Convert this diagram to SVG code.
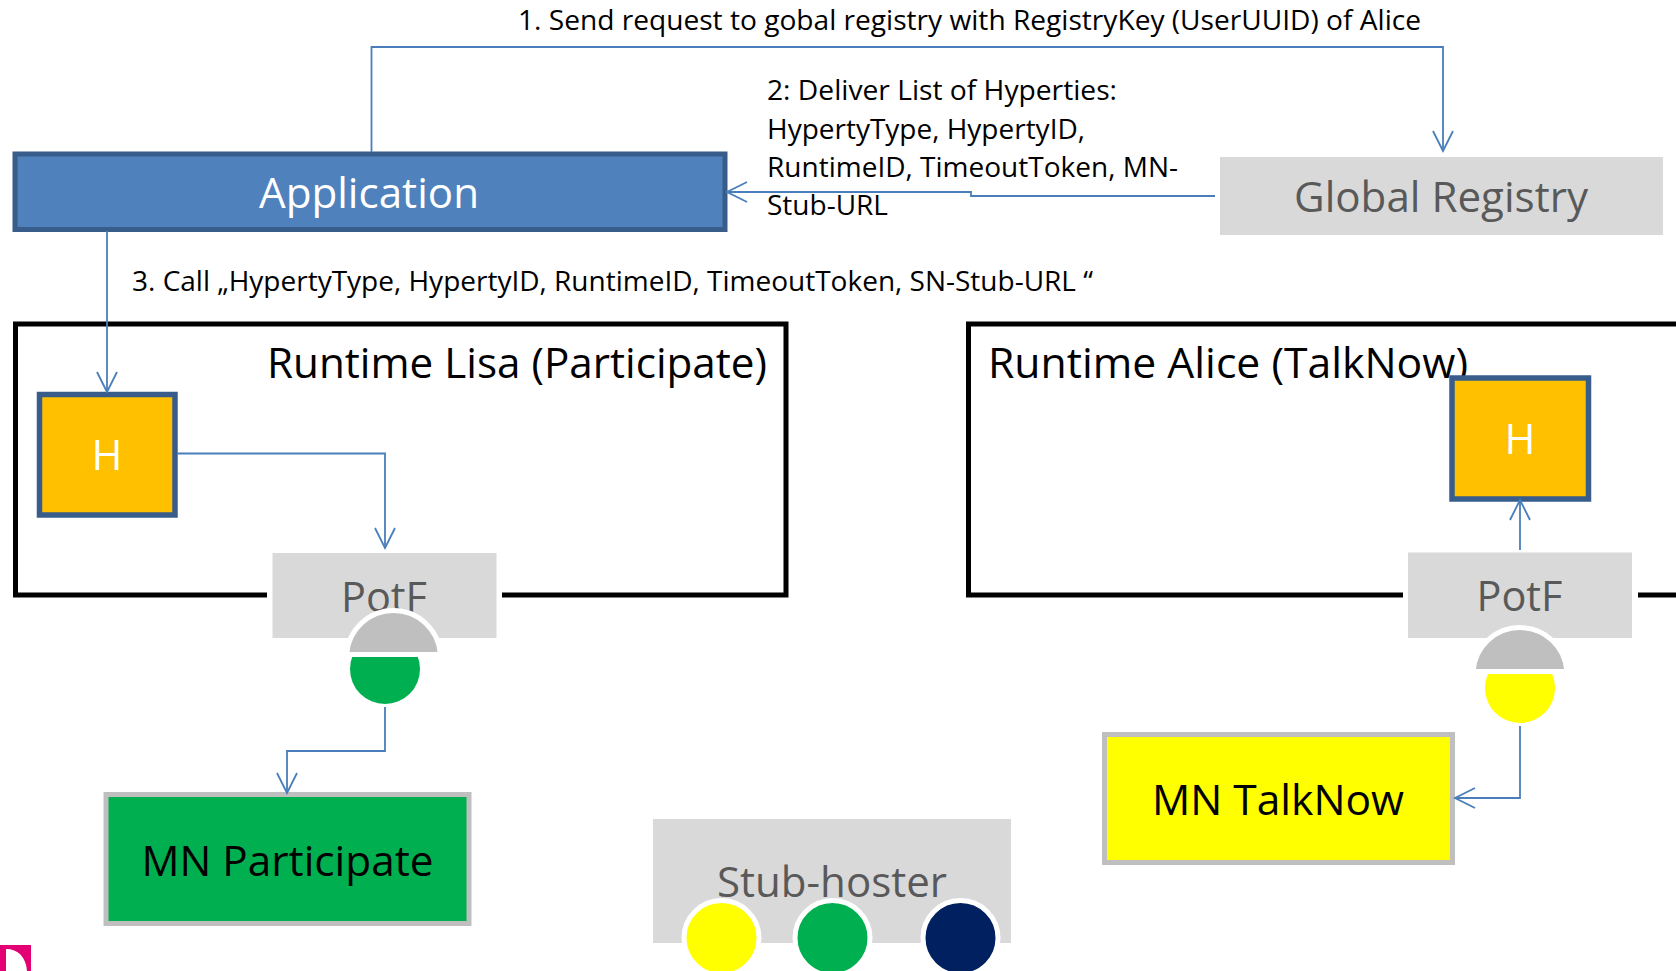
<svg xmlns="http://www.w3.org/2000/svg" width="1676" height="971" viewBox="0 0 1676 971">
<style>
text{font-family:"Open Sans","Noto Sans","Liberation Sans",sans-serif}
.lab{font-size:27px;fill:#000}
.big{font-size:42px;text-anchor:middle}
.gr{fill:#595959}
.box{fill:#d9d9d9}
.run{fill:none;stroke:#000;stroke-width:5}
.h{fill:#ffc000;stroke:#385d8a;stroke-width:5.5}
.mn{stroke:#bfbfbf;stroke-width:5}
.cap{fill:#bfbfbf;stroke:#fff;stroke-width:5}
.dot{stroke:#fff;stroke-width:5}
.c{fill:none;stroke:#4a7ebb;stroke-width:1.8;marker-end:url(#a)}
</style>
<defs>
<marker id="a" markerUnits="userSpaceOnUse" markerWidth="26" markerHeight="26" refX="21" refY="11" orient="auto">
<path d="M1 1 L21 11 L1 21" fill="none" stroke="#4a7ebb" stroke-width="1.8"/>
</marker>
</defs>
<rect width="1676" height="971" fill="#fff"/>

<g id="runtime-lisa">
<path class="run" d="M267 595H15.500V324H786V595H502"/>
<text x="767" y="378" class="big" style="text-anchor:end" textLength="500" lengthAdjust="spacingAndGlyphs">Runtime Lisa (Participate)</text>
</g>
<g id="runtime-alice">
<path class="run" d="M1403 595H968.500V324H1676M1638 595H1676"/>
<text x="988" y="378" font-size="42" textLength="480" lengthAdjust="spacingAndGlyphs">Runtime Alice (TalkNow)</text>
</g>

<g id="application">
<rect x="15" y="154" width="710" height="75.500" fill="#4f81bd" stroke="#385d8a" stroke-width="5"/>
<text x="369" y="208" class="big" fill="#fff" textLength="220" lengthAdjust="spacingAndGlyphs">Application</text>
</g>
<g id="global-registry">
<rect class="box" x="1220" y="157" width="443" height="78"/>
<text x="1441" y="212" class="big gr" textLength="294" lengthAdjust="spacingAndGlyphs">Global Registry</text>
</g>

<g id="h-lisa">
<rect class="h" x="39.500" y="394.500" width="135.500" height="120.500"/>
<text x="107" y="470" class="big" fill="#fff">H</text>
</g>
<g id="h-alice">
<rect class="h" x="1452" y="378" width="136.500" height="121"/>
<text x="1520" y="454" class="big" fill="#fff">H</text>
</g>

<g id="potf-lisa">
<rect class="box" x="272.500" y="553" width="224" height="85"/>
<text x="384" y="612" class="big gr" textLength="86" lengthAdjust="spacingAndGlyphs">PotF</text>
<circle cx="385" cy="669" r="35" fill="#00b050"/>
<path class="cap" d="M346.600 654.500A47 47 0 0 1 440.400 654.500Z"/>
</g>
<g id="potf-alice">
<rect class="box" x="1408" y="552.500" width="224" height="85.500"/>
<text x="1519.500" y="611" class="big gr" textLength="86" lengthAdjust="spacingAndGlyphs">PotF</text>
<circle cx="1520" cy="688" r="35" fill="#ff0"/>
<path class="cap" d="M1473.100 671.500A47 47 0 0 1 1566.900 671.500Z"/>
</g>

<g id="mn-participate">
<rect class="mn" x="106" y="794.500" width="363" height="129" fill="#00b050"/>
<text x="287.500" y="876" class="big" fill="#000" textLength="292" lengthAdjust="spacingAndGlyphs">MN Participate</text>
</g>
<g id="mn-talknow">
<rect class="mn" x="1104.500" y="734.500" width="348" height="128" fill="#ff0"/>
<text x="1278" y="815" class="big" fill="#000" textLength="252" lengthAdjust="spacingAndGlyphs">MN TalkNow</text>
</g>

<g id="stub-hoster">
<rect class="box" x="653" y="819" width="358" height="124"/>
<text x="832" y="897" class="big gr" textLength="230" lengthAdjust="spacingAndGlyphs">Stub-hoster</text>
<circle class="dot" cx="721.500" cy="938" r="37.500" fill="#ff0"/>
<circle class="dot" cx="832.500" cy="938" r="37.500" fill="#00b050"/>
<circle class="dot" cx="960.500" cy="938" r="37.500" fill="#002060"/>
</g>

<g id="connectors">
<path class="c" d="M371.500 152V47H1443V151"/>
<path class="c" d="M1215 196H971V192H727"/>
<path class="c" d="M107 231V392"/>
<path class="c" d="M177 453.500H385V548"/>
<path class="c" d="M385 707V751H287V793"/>
<path class="c" d="M1520 550V500"/>
<path class="c" d="M1520 726V798H1455"/>
</g>

<g id="labels">
<text class="lab" x="518" y="30" textLength="903" lengthAdjust="spacingAndGlyphs">1. Send request to gobal registry with RegistryKey (UserUUID) of Alice</text>
<text class="lab" x="767" y="100" textLength="350" lengthAdjust="spacingAndGlyphs">2: Deliver List of Hyperties:</text>
<text class="lab" x="767" y="139" textLength="318" lengthAdjust="spacingAndGlyphs">HypertyType, HypertyID,</text>
<text class="lab" x="767" y="177" textLength="411" lengthAdjust="spacingAndGlyphs">RuntimeID, TimeoutToken, MN-</text>
<text class="lab" x="767" y="215" textLength="121" lengthAdjust="spacingAndGlyphs">Stub-URL</text>
<text class="lab" x="132" y="291" textLength="961" lengthAdjust="spacingAndGlyphs">3. Call „HypertyType, HypertyID, RuntimeID, TimeoutToken, SN-Stub-URL “</text>
</g>

<g id="logo">
<rect x="0" y="945" width="31" height="26" fill="#e20074"/>
<path d="M6 949C18 949 26 957 27 971H6Z" fill="#fff"/>
</g>
</svg>
